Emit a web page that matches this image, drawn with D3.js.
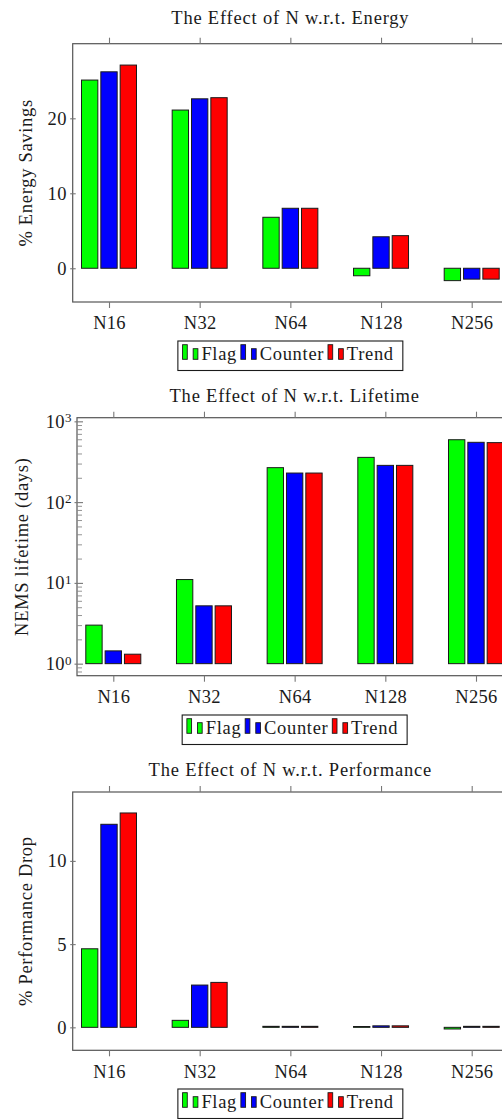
<!DOCTYPE html>
<html>
<head>
<meta charset="utf-8">
<script src="https://cdn.jsdelivr.net/npm/d3@7"></script>
<style>
  html, body { margin: 0; padding: 0; background: #fff; }
  svg { display: block; }
</style>
</head>
<body>
<svg id="chart" width="502" height="1119"></svg>
<script>
// Categories and series
const categories = ["N16", "N32", "N64", "N128", "N256"];
const seriesNames = ["Flag", "Counter", "Trend"];
const seriesColors = ["#00ff00", "#0000ff", "#ff0000"];

// % energy savings
const energyFlag = [25.1, 21.1, 6.8, -1.0, -1.65];
const energyCounter = [26.2, 22.6, 8.0, 4.2, -1.45];
const energyTrend = [27.1, 22.75, 8.0, 4.35, -1.45];

// NEMS lifetime in days (log scale)
const lifetimeFlag = [3.0, 11.0, 267, 358, 592];
const lifetimeCounter = [1.44, 5.2, 229, 285, 550];
const lifetimeTrend = [1.31, 5.2, 229, 285, 545];

// % performance drop
const perfFlag = [4.72, 0.42, 0.06, 0.05, -0.1];
const perfCounter = [12.2, 2.54, 0.06, 0.09, 0.06];
const perfTrend = [12.88, 2.70, 0.06, 0.09, 0.06];

// Y tick values
const energyTicks = [0, 10, 20];
const lifetimeTicks = [1, 10, 100, 1000];
const perfTicks = [0, 5, 10];

const FONT = "'Liberation Serif', 'Times New Roman', serif";
const FS = 18.5;
const svg = d3.select("#chart");

function styleText(sel, spacing) {
  sel.attr("font-family", FONT).attr("font-size", FS).attr("fill", "#1a1a1a")
     .attr("letter-spacing", spacing);
}

function drawPanel(p) {
  const g = svg.append("g");
  const cx = (p.left + p.right) / 2;

  const x = d3.scalePoint().domain(categories)
    .range([p.left + 36.3, p.right - 36.3]);
  const inner = d3.scaleBand().domain(seriesNames)
    .range([-27.5, 27.5]).paddingInner(0.155).paddingOuter(0);
  const y = (p.log ? d3.scaleLog() : d3.scaleLinear())
    .domain(p.domain).range([p.bottom, p.top]);
  const base = p.log ? 1 : 0;

  // bars
  p.series.forEach((vals, si) => {
    g.append("g").selectAll("rect").data(vals).enter().append("rect")
      .attr("x", (d, i) => x(categories[i]) + inner(seriesNames[si]))
      .attr("width", inner.bandwidth())
      .attr("y", d => Math.min(y(d), y(base)))
      .attr("height", d => Math.abs(y(d) - y(base)))
      .attr("fill", seriesColors[si])
      .attr("stroke", "#1a1a1a")
      .attr("stroke-width", 1);
  });

  // axis box
  g.append("rect")
    .attr("x", p.left).attr("y", p.top)
    .attr("width", p.right - p.left).attr("height", p.bottom - p.top)
    .attr("fill", "none").attr("stroke", "#555").attr("stroke-width", 1.2);

  // x axis: ticks outside at bottom with labels, outside at top
  const xb = g.append("g").attr("transform", `translate(0,${p.bottom})`)
    .call(d3.axisBottom(x).tickSize(6).tickPadding(8.2));
  const xt = g.append("g").attr("transform", `translate(0,${p.top})`)
    .call(d3.axisTop(x).tickSize(6).tickFormat(""));
  [xb, xt].forEach(a => {
    a.select(".domain").remove();
    a.selectAll("line").attr("stroke", "#777").attr("stroke-width", 1.1);
  });
  styleText(xb.selectAll("text"), 0.3);

  // y axis major ticks, crossing the left and right axis lines
  const yl = g.append("g").attr("transform", `translate(${p.left},0)`)
    .call(d3.axisLeft(y).tickValues(p.ticks).tickSize(2.5)
      .tickPadding(p.log ? 2.8 : 3.5).tickFormat(p.log ? () => "" : d3.format("d")));
  const yli = g.append("g").attr("transform", `translate(${p.left},0)`)
    .call(d3.axisRight(y).tickValues(p.ticks).tickSize(p.log ? 6 : 3).tickFormat(""));
  const yri = g.append("g").attr("transform", `translate(${p.right},0)`)
    .call(d3.axisLeft(y).tickValues(p.ticks).tickSize(p.log ? 6 : 3).tickFormat(""));
  [yl, yli, yri].forEach(a => {
    a.select(".domain").remove();
    a.selectAll("line").attr("stroke", "#777").attr("stroke-width", 1.1);
  });
  styleText(yl.selectAll("text"), 0.3);

  if (p.log) {
    // 10^k labels with superscript exponent
    yl.selectAll(".tick text").each(function (d) {
      const t = d3.select(this);
      t.text(null);
      t.append("tspan").text("10");
      t.append("tspan").attr("dy", "-0.42em").attr("font-size", 13)
        .text(Math.round(Math.log10(d)));
    });
    // minor log ticks inside both axis lines
    const minor = [];
    for (let k = -1; k <= 3; k++) {
      for (let m = 2; m <= 9; m++) {
        const v = m * Math.pow(10, k);
        if (v > p.domain[0] && v < p.domain[1]) minor.push(v);
      }
    }
    const ml = g.append("g").attr("transform", `translate(${p.left},0)`)
      .call(d3.axisRight(y).tickValues(minor).tickSize(5).tickFormat(""));
    const mr = g.append("g").attr("transform", `translate(${p.right},0)`)
      .call(d3.axisLeft(y).tickValues(minor).tickSize(5).tickFormat(""));
    [ml, mr].forEach(a => {
      a.select(".domain").remove();
      a.selectAll("line").attr("stroke", "#888").attr("stroke-width", 0.9);
    });
  }

  // title
  styleText(g.append("text")
    .attr("x", cx).attr("y", p.titleY)
    .attr("text-anchor", "middle").text(p.title), 0.8);

  // y axis label
  styleText(g.append("text")
    .attr("transform", `translate(${p.ylabelX},${(p.top + p.bottom) / 2}) rotate(-90)`)
    .attr("text-anchor", "middle").text(p.ylabel), 0.7);

  // legend
  const lg = g.append("g");
  let cursor = 4.7;
  const boxTop = p.legendY;
  seriesNames.forEach((name, si) => {
    lg.append("rect").attr("x", cursor).attr("y", boxTop + 3.7)
      .attr("width", 4.7).attr("height", 14.6)
      .attr("fill", seriesColors[si]).attr("stroke", "#1a1a1a").attr("stroke-width", 0.9);
    lg.append("rect").attr("x", cursor + 10.6).attr("y", boxTop + 7.7)
      .attr("width", 4.7).attr("height", 10.6)
      .attr("fill", seriesColors[si]).attr("stroke", "#1a1a1a").attr("stroke-width", 0.9);
    const t = lg.append("text").attr("x", cursor + 18.8).attr("y", boxTop + 19.2).text(name);
    styleText(t, 0.7);
    cursor = cursor + 18.8 + t.node().getComputedTextLength() + 3.8;
  });
  const boxW = cursor - 3.8 + 9;
  lg.insert("rect", ":first-child")
    .attr("x", 0).attr("y", boxTop).attr("width", boxW).attr("height", 29.5)
    .attr("fill", "#fff").attr("stroke", "#1a1a1a").attr("stroke-width", 1.1);
  lg.attr("transform", `translate(${cx - boxW / 2},0)`);
}

drawPanel({
  title: "The Effect of N w.r.t. Energy", titleY: 24,
  ylabel: "% Energy Savings", ylabelX: 32,
  left: 72.7, right: 508, top: 43.7, bottom: 302,
  domain: [-4.5, 29.95], ticks: energyTicks, log: false,
  series: [energyFlag, energyCounter, energyTrend],
  legendY: 341
});

drawPanel({
  title: "The Effect of N w.r.t. Lifetime", titleY: 402,
  ylabel: "NEMS lifetime (days)", ylabelX: 27.5,
  left: 77, right: 512.3, top: 417.7, bottom: 675.7,
  domain: [Math.pow(10, -0.149), Math.pow(10, 3.045)], ticks: lifetimeTicks, log: true,
  series: [lifetimeFlag, lifetimeCounter, lifetimeTrend],
  legendY: 715
});

drawPanel({
  title: "The Effect of N w.r.t. Performance", titleY: 776,
  ylabel: "% Performance Drop", ylabelX: 32,
  left: 72.7, right: 508, top: 792, bottom: 1050.3,
  domain: [-1.38, 14.14], ticks: perfTicks, log: false,
  series: [perfFlag, perfCounter, perfTrend],
  legendY: 1089
});
</script>
</body>
</html>
